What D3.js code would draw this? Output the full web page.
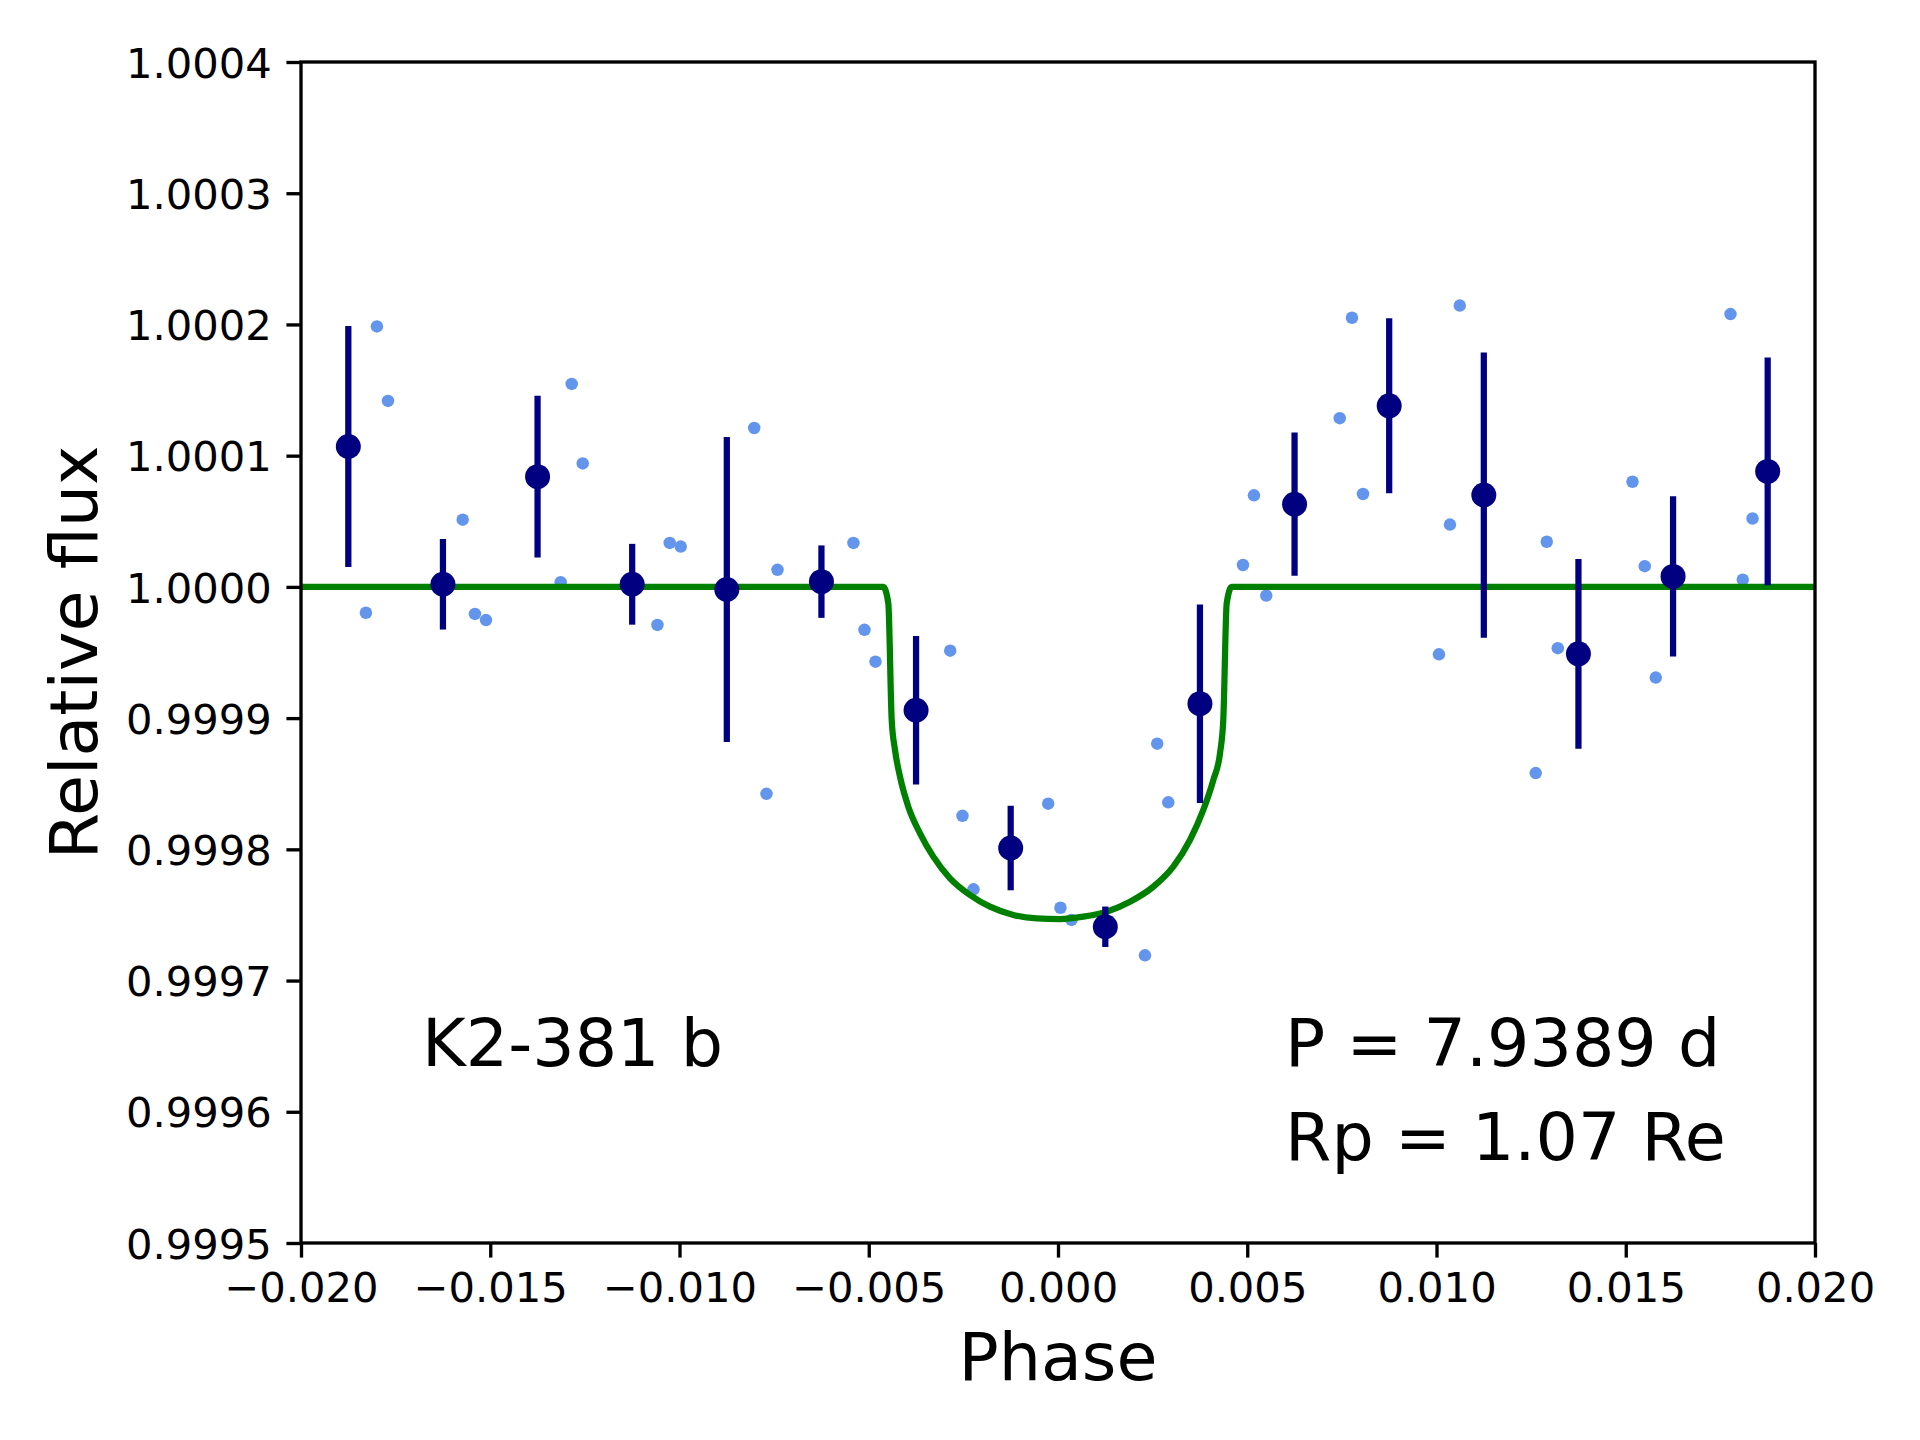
<!DOCTYPE html>
<html>
<head>
<meta charset="utf-8">
<script src="https://cdn.jsdelivr.net/npm/d3@7"></script>
<style>
  body { margin: 0; background: #fff; }
  svg { display: block; font-family: "DejaVu Sans", sans-serif; }
</style>
</head>
<body>
<div id="chart"></div>
<script>
// Unbinned light curve points (phase, relative flux)
const rawPhase = [
  -0.018285, -0.017994, -0.017702, -0.015728, -0.015405, -0.015113,
  -0.013139, -0.012848, -0.012557, -0.010583, -0.010259, -0.009968,
  -0.008026, -0.007702, -0.007411, -0.005405, -0.005113, -0.004822,
  -0.002848, -0.002524, -0.002233, -0.000259, 0.000065, 0.000356,
  0.002298, 0.002621, 0.002913, 0.004887, 0.005178, 0.005502,
  0.007443, 0.007767, 0.008058, 0.010065, 0.010356, 0.010615,
  0.012621, 0.012913, 0.013204, 0.015178, 0.015502, 0.015793,
  0.017767, 0.018091, 0.018350
];
const rawFlux = [
  0.9999803, 1.0001985, 1.0001417, 1.0000512, 0.9999794, 0.9999747,
  1.0000036, 1.0001547, 1.0000941, 0.9999710, 1.0000335, 1.0000307,
  1.0001211, 0.9998423, 1.0000130, 1.0000335, 0.9999673, 0.9999430,
  0.9999514, 0.9998255, 0.9997695, 0.9998348, 0.9997555, 0.9997462,
  0.9997192, 0.9998805, 0.9998358, 1.0000167, 1.0000698, 0.9999934,
  1.0001286, 1.0002051, 1.0000708, 0.9999486, 1.0000475, 1.0002144,
  0.9998581, 1.0000344, 0.9999533, 1.0000801, 1.0000158, 0.9999309,
  1.0002079, 1.0000055, 1.0000521
];

// Binned points with error bars
const binPhase = [
  -0.01875, -0.01625, -0.01375, -0.01125, -0.00875, -0.00625, -0.00375, -0.00125,
  0.00125, 0.00375, 0.00625, 0.00875, 0.01125, 0.01375, 0.01625, 0.01875
];
const binFlux = [
  1.000107, 1.000002, 1.000084, 1.000002, 0.999998, 1.000004, 0.999906, 0.999801,
  0.999741, 0.999911, 1.000063, 1.000138, 1.000070, 0.999949, 1.000008, 1.000088
];
const binErr = [
  0.0000919, 0.0000345, 0.0000616, 0.0000308, 0.0001162, 0.0000276, 0.0000565, 0.0000322,
  0.0000154, 0.0000756, 0.0000546, 0.0000667, 0.0001087, 0.0000723, 0.0000611, 0.0000868
];

// Transit model curve
const modelPhase = [
  -0.0200, -0.004616, -0.004483, -0.004394, -0.004306, -0.004174, -0.003955, -0.003646,
  -0.003295, -0.002853, -0.002325, -0.001797, -0.001181, -0.000563, 0.000053, 0.000668,
  0.001287, 0.001902, 0.002518, 0.003046, 0.003487, 0.003839, 0.004103, 0.004280,
  0.004367, 0.004457, 0.004589, 0.0200
];
const modelFlux = [
  1.000000, 1.000000, 0.9999875, 0.9998986, 0.9998757, 0.9998553, 0.9998325, 0.9998122,
  0.9997944, 0.9997779, 0.9997652, 0.9997563, 0.9997500, 0.9997474, 0.9997469, 0.9997487,
  0.9997525, 0.9997601, 0.9997715, 0.9997868, 0.9998071, 0.9998300, 0.9998528, 0.9998732,
  0.9998986, 0.9999875, 1.000000, 1.000000
];

// Axis ticks
const xTicks = [-0.020, -0.015, -0.010, -0.005, 0.000, 0.005, 0.010, 0.015, 0.020];
const yTicks = [0.9995, 0.9996, 0.9997, 0.9998, 0.9999, 1.0000, 1.0001, 1.0002, 1.0003, 1.0004];

// Annotations: [phase, flux, text]
const labels = [
  [-0.0168, 0.999635, 'K2-381 b'],
  [0.0060, 0.999635, 'P = 7.9389 d'],
  [0.0060, 0.999563, 'Rp = 1.07 Re']
];

function createChart() {
    const width = 1920;
    const height = 1440;
    const pt = 300 / 72; // matplotlib points -> px at 300 dpi
    const area = { left: 301, right: 1815, top: 62, bottom: 1243 };

    const svg = d3
        .select('#chart')
        .append('svg')
        .attr('width', width)
        .attr('height', height)
        .attr('viewBox', `0 0 ${width} ${height}`);

    const xScale = d3.scaleLinear().domain([-0.02, 0.02]).range([area.left, area.right]);
    const yScale = d3.scaleLinear().domain([0.9995, 1.0004]).range([area.bottom, area.top]);

    // Clip everything to the axes box
    svg.append('clipPath')
        .attr('id', 'plot-clip')
        .append('rect')
        .attr('x', area.left)
        .attr('y', area.top)
        .attr('width', area.right - area.left)
        .attr('height', area.bottom - area.top);

    const plot = svg.append('g').attr('clip-path', 'url(#plot-clip)');

    // Unbinned points
    plot.append('g')
        .selectAll('circle')
        .data(rawPhase.map((p, i) => ({ p, f: rawFlux[i] })))
        .join('circle')
        .attr('cx', (d) => xScale(d.p))
        .attr('cy', (d) => yScale(d.f))
        .attr('r', 1.5 * pt)
        .attr('fill', 'cornflowerblue');

    // Model curve
    const line = d3.line()
        .x((d) => xScale(d[0]))
        .y((d) => yScale(d[1]))
        .curve(d3.curveMonotoneX);

    plot.append('path')
        .datum(modelPhase.map((p, i) => [p, modelFlux[i]]))
        .attr('d', line)
        .attr('fill', 'none')
        .attr('stroke', 'green')
        .attr('stroke-width', 1.5 * pt);

    // Binned points with error bars
    const bins = binPhase.map((p, i) => ({ p, f: binFlux[i], e: binErr[i] }));
    const binG = plot.append('g');
    binG.selectAll('line')
        .data(bins)
        .join('line')
        .attr('x1', (d) => xScale(d.p))
        .attr('x2', (d) => xScale(d.p))
        .attr('y1', (d) => yScale(d.f - d.e))
        .attr('y2', (d) => yScale(d.f + d.e))
        .attr('stroke', 'navy')
        .attr('stroke-width', 1.5 * pt);
    binG.selectAll('circle')
        .data(bins)
        .join('circle')
        .attr('cx', (d) => xScale(d.p))
        .attr('cy', (d) => yScale(d.f))
        .attr('r', 3 * pt)
        .attr('fill', 'navy');

    // Axes
    const tickLen = 3.5 * pt;
    const xAxis = d3.axisBottom(xScale)
        .tickValues(xTicks)
        .tickFormat(d3.format('.3f'))
        .tickSize(tickLen)
        .tickSizeOuter(0)
        .tickPadding(tickLen);
    const yAxis = d3.axisLeft(yScale)
        .tickValues(yTicks)
        .tickFormat(d3.format('.4f'))
        .tickSize(tickLen)
        .tickSizeOuter(0)
        .tickPadding(tickLen);

    const gx = svg.append('g')
        .attr('transform', `translate(0, ${area.bottom})`)
        .call(xAxis);
    const gy = svg.append('g')
        .attr('transform', `translate(${area.left}, 0)`)
        .call(yAxis);

    [gx, gy].forEach((g) => {
        g.select('.domain').remove();
        g.selectAll('.tick line').attr('stroke', '#000').attr('stroke-width', 0.8 * pt);
        g.selectAll('.tick text')
            .attr('fill', '#000')
            .style('font-family', '"DejaVu Sans", sans-serif')
            .style('font-size', `${10 * pt}px`);
    });
    gy.selectAll('.tick text').attr('dy', '0.364em');

    // Frame
    svg.append('rect')
        .attr('x', area.left)
        .attr('y', area.top)
        .attr('width', area.right - area.left)
        .attr('height', area.bottom - area.top)
        .attr('fill', 'none')
        .attr('stroke', '#000')
        .attr('stroke-width', 0.8 * pt);

    // Axis labels
    svg.append('text')
        .attr('x', (area.left + area.right) / 2)
        .attr('y', 1380)
        .attr('text-anchor', 'middle')
        .style('font-size', `${16 * pt}px`)
        .text('Phase');
    svg.append('text')
        .attr('transform', `translate(97, ${(area.top + area.bottom) / 2}) rotate(-90)`)
        .attr('text-anchor', 'middle')
        .style('font-size', `${16 * pt}px`)
        .text('Relative flux');

    // Annotations
    svg.append('g')
        .selectAll('text')
        .data(labels)
        .join('text')
        .attr('x', (d) => xScale(d[0]))
        .attr('y', (d) => yScale(d[1]))
        .style('font-size', `${16 * pt}px`)
        .text((d) => d[2]);
}

document.addEventListener('DOMContentLoaded', createChart);
</script>
</body>
</html>
